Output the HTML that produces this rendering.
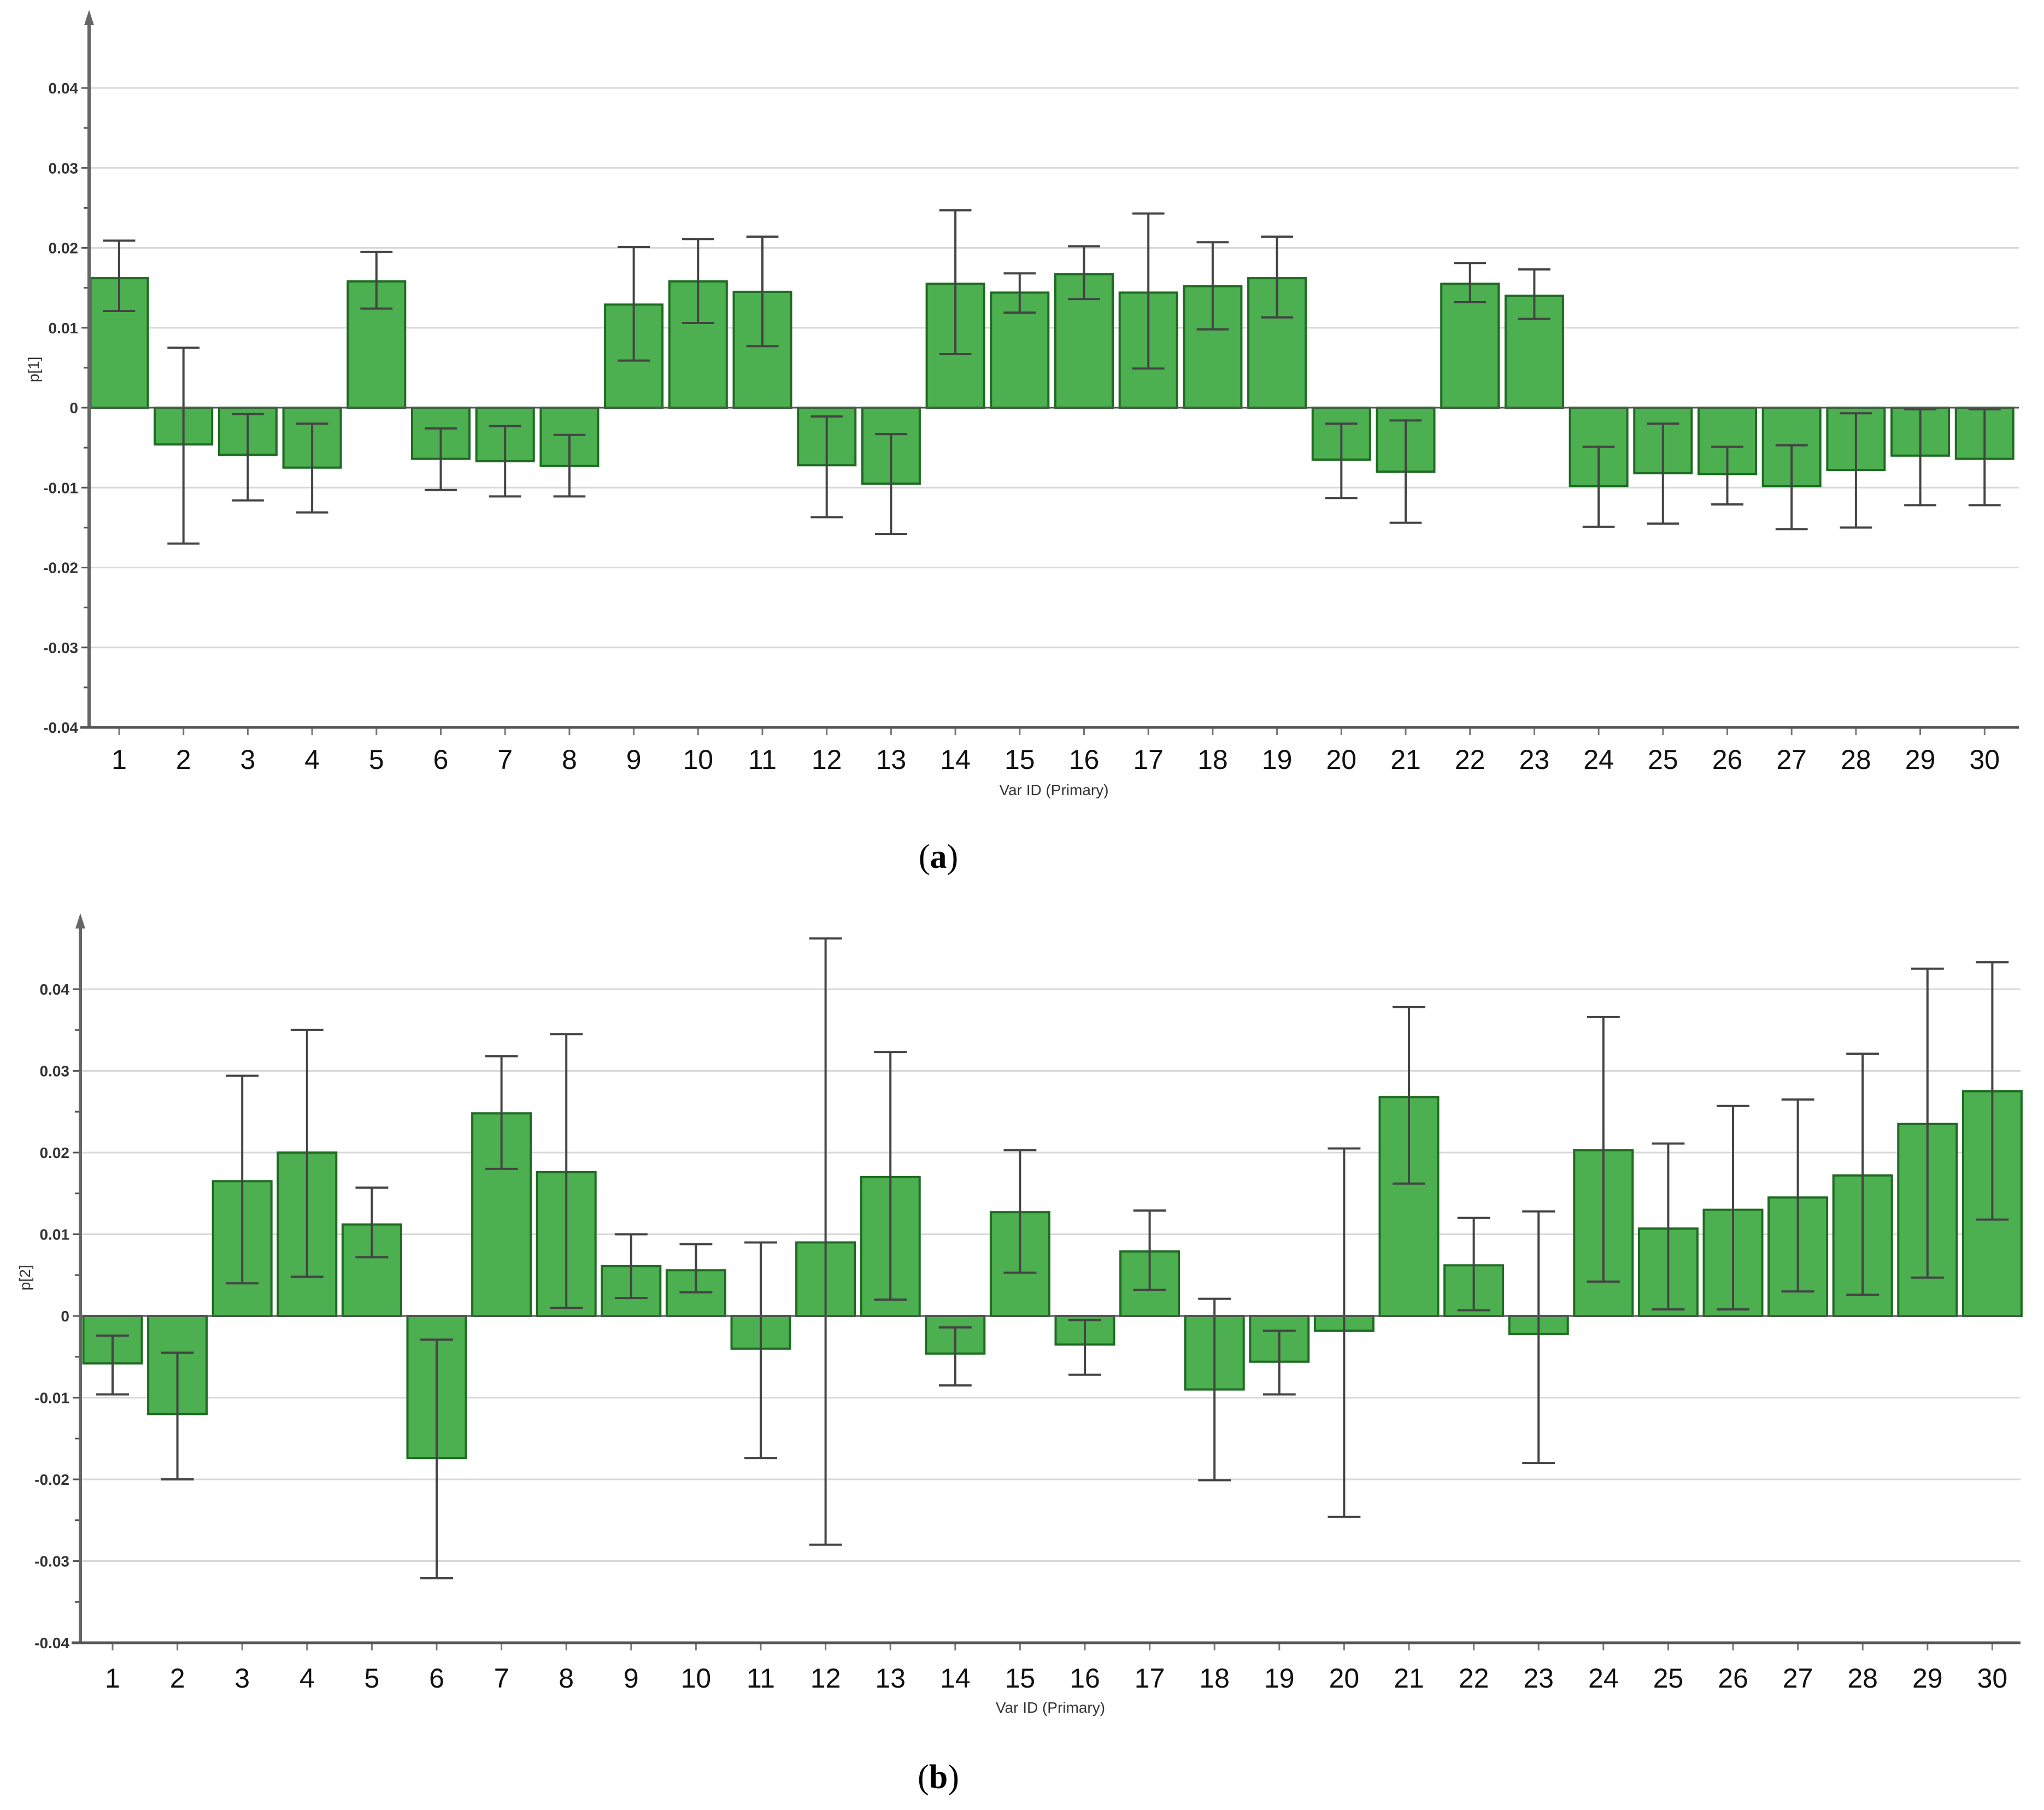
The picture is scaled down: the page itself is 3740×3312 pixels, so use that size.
<!DOCTYPE html>
<html><head><meta charset="utf-8"><style>
html,body{margin:0;padding:0;background:#fff;}
svg{display:block;font-family:"Liberation Sans",sans-serif;}
</style></head><body>
<svg id="fig" width="3740" height="3312" viewBox="0 0 3740 3312" xmlns="http://www.w3.org/2000/svg">
<g id="chartA"></g>
<g id="chartB"></g>
<text x="1717" y="1588" font-family="Liberation Serif,serif" font-size="62" text-anchor="middle">(<tspan font-weight="bold">a</tspan>)</text>
<text x="1717" y="3272" font-family="Liberation Serif,serif" font-size="62" text-anchor="middle">(<tspan font-weight="bold">b</tspan>)</text>
</svg>
<script>
const categories = [1,2,3,4,5,6,7,8,9,10,11,12,13,14,15,16,17,18,19,20,21,22,23,24,25,26,27,28,29,30];
const yTicks = [0.04,0.03,0.02,0.01,0,-0.01,-0.02,-0.03,-0.04];
const yTickLabels = ["0.04","0.03","0.02","0.01","0","-0.01","-0.02","-0.03","-0.04"];
const valuesA = [0.0162,-0.0046,-0.0059,-0.0075,0.0158,-0.0064,-0.0067,-0.0073,0.0129,0.0158,0.0145,-0.0072,-0.0095,0.0155,0.0144,0.0167,0.0144,0.0152,0.0162,-0.0065,-0.008,0.0155,0.014,-0.0098,-0.0082,-0.0083,-0.0098,-0.0078,-0.006,-0.0064];
const errHighA = [0.0209,0.0075,-0.0008,-0.002,0.0195,-0.0026,-0.0023,-0.0034,0.0201,0.0211,0.0214,-0.0011,-0.0033,0.0247,0.0168,0.0202,0.0243,0.0207,0.0214,-0.002,-0.0016,0.0181,0.0173,-0.0049,-0.002,-0.0049,-0.0047,-0.0007,-0.0002,-0.0002];
const errLowA = [0.0121,-0.017,-0.0116,-0.0131,0.0124,-0.0103,-0.0111,-0.0111,0.0059,0.0106,0.0077,-0.0137,-0.0158,0.0067,0.0119,0.0136,0.0049,0.0098,0.0113,-0.0113,-0.0144,0.0132,0.0111,-0.0149,-0.0145,-0.0121,-0.0152,-0.015,-0.0122,-0.0122];
const valuesB = [-0.0058,-0.012,0.0165,0.02,0.0112,-0.0174,0.0248,0.0176,0.0061,0.0056,-0.004,0.009,0.017,-0.0046,0.0127,-0.0035,0.0079,-0.009,-0.0056,-0.0018,0.0268,0.0062,-0.0022,0.0203,0.0107,0.013,0.0145,0.0172,0.0235,0.0275];
const errHighB = [-0.0024,-0.0045,0.0294,0.035,0.0157,-0.0029,0.0318,0.0345,0.01,0.0088,0.009,0.0462,0.0323,-0.0014,0.0203,-0.0005,0.0129,0.0021,-0.0018,0.0205,0.0378,0.012,0.0128,0.0366,0.0211,0.0257,0.0265,0.0321,0.0425,0.0433];
const errLowB = [-0.0096,-0.02,0.004,0.0048,0.0072,-0.0321,0.018,0.001,0.0022,0.0029,-0.0174,-0.028,0.002,-0.0085,0.0053,-0.0072,0.0032,-0.0201,-0.0096,-0.0246,0.0162,0.0007,-0.018,0.0042,0.0008,0.0008,0.003,0.0026,0.0047,0.0118];

const NS="http://www.w3.org/2000/svg";
function mk(parent,tag,attrs){const e=document.createElementNS(NS,tag);for(const k in attrs)e.setAttribute(k,attrs[k]);parent.appendChild(e);return e;}

function drawChart(g,cfg,vals,hi,lo,yTitle,prefix){
  const yScale=v=>cfg.y0-v/0.04*(cfg.y0-cfg.yTop);
  const xScale=i=>cfg.x1+i*cfg.step;
  // gridlines
  yTicks.forEach((t,i)=>{
    if(t!==0){
      const l=mk(g,'line',{x1:cfg.ax,x2:cfg.axEnd,y1:yScale(t),y2:yScale(t),stroke:'#d8d8d8','stroke-width':3});
      
      
    }
    const tk=mk(g,'line',{x1:cfg.ax-14,x2:cfg.ax,y1:yScale(t),y2:yScale(t),stroke:'#555','stroke-width':3});
    
    
    const tx=mk(g,'text',{x:cfg.ax-20,y:yScale(t)+10,'font-size':28,'font-weight':'bold','text-anchor':'end',fill:'#333'});
    tx.textContent=yTickLabels[i];
    
    
  });
  for(let k=0;k<8;k++){
    const v=0.035-k*0.01;
    const mt=mk(g,'line',{x1:cfg.ax-10,x2:cfg.ax,y1:yScale(v),y2:yScale(v),stroke:'#555','stroke-width':3});
    
    
  }
  // bars
  categories.forEach((c,i)=>{
    const cx=xScale(i),v=vals[i];
    const y1=yScale(Math.max(v,0)),y2=yScale(Math.min(v,0));
    const b=mk(g,'rect',{x:cx-cfg.bw/2,y:y1,width:cfg.bw,height:Math.max(1,y2-y1),fill:'#4caf50',stroke:'#1f6b22','stroke-width':4});
    
    
    const eh=yScale(hi[i]),el=yScale(lo[i]),cw=cfg.bw*0.28;
    const ev=mk(g,'line',{x1:cx,x2:cx,y1:eh,y2:el,stroke:'#444','stroke-width':4});
    
    
    const ct=mk(g,'line',{x1:cx-cw,x2:cx+cw,y1:eh,y2:eh,stroke:'#444','stroke-width':4});
    
    
    const cb=mk(g,'line',{x1:cx-cw,x2:cx+cw,y1:el,y2:el,stroke:'#444','stroke-width':4});
    
    
    const xt=mk(g,'line',{x1:cx,x2:cx,y1:cfg.yBot,y2:cfg.yBot+14,stroke:'#777','stroke-width':3});
    
    
    const xl=mk(g,'text',{x:cx,y:cfg.xLabY,'font-size':50,'text-anchor':'middle',fill:'#111'});
    xl.textContent=c;
    
    
  });
  // zero line
  const z=mk(g,'line',{x1:cfg.ax,x2:cfg.axEnd,y1:cfg.y0,y2:cfg.y0,stroke:'#555','stroke-width':3});
  
  
  // axes
  const ya=mk(g,'line',{x1:cfg.ax,x2:cfg.ax,y1:cfg.tip+20,y2:cfg.yBot,stroke:'#666','stroke-width':6});
  
  
  const ar=mk(g,'polygon',{points:`${cfg.ax},${cfg.tip} ${cfg.ax-9},${cfg.tip+28} ${cfg.ax+9},${cfg.tip+28}`,fill:'#666'});
  
  
  const xa=mk(g,'line',{x1:cfg.ax-16,x2:cfg.axEnd,y1:cfg.yBot,y2:cfg.yBot,stroke:'#555','stroke-width':5});
  
  
  const yt=mk(g,'text',{x:0,y:0,'font-size':28,'text-anchor':'middle',fill:'#333',transform:`translate(${cfg.ax-92},${cfg.y0-70}) rotate(-90)`});
  yt.textContent=yTitle;
  
  
  const xtt=mk(g,'text',{x:(cfg.ax+cfg.axEnd)/2,y:cfg.xTitleY,'font-size':28,'text-anchor':'middle',fill:'#333'});
  xtt.textContent='Var ID (Primary)';
  
  
}
drawChart(document.getElementById('chartA'),{ax:163,axEnd:3694,y0:746,yTop:161,yBot:1331,tip:18,x1:218,step:117.7,bw:105,xLabY:1407,xTitleY:1455},valuesA,errHighA,errLowA,'p[1]','a');
drawChart(document.getElementById('chartB'),{ax:147,axEnd:3697,y0:2408,yTop:1810,yBot:3006,tip:1671,x1:206,step:118.6,bw:107,xLabY:3088,xTitleY:3134},valuesB,errHighB,errLowB,'p[2]','b');
</script>
</body></html>
